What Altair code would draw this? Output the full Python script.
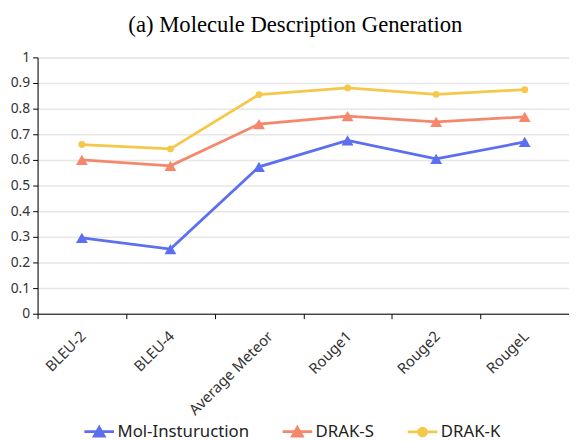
import altair as alt
import pandas as pd

categories = ["BLEU-2", "BLEU-4", "Average Meteor", "Rouge1", "Rouge2", "RougeL"]
series_names = ["Mol-Insturuction", "DRAK-S", "DRAK-K"]
mol_instruction = [0.296, 0.252, 0.573, 0.676, 0.604, 0.670]
drak_s = [0.600, 0.577, 0.740, 0.771, 0.748, 0.768]
drak_k = [0.660, 0.643, 0.855, 0.881, 0.856, 0.874]
colors = ["#5b6ff0", "#f5876c", "#f5c84a"]
widths = [2.8, 2.8, 2.0]

rows = []
for name, vals in zip(series_names, [mol_instruction, drak_s, drak_k]):
    for c, v in zip(categories, vals):
        rows.append({"category": c, "value": v, "series": name})
df = pd.DataFrame(rows)

FONT = "Noto Sans"

x_enc = alt.X(
    "category:N",
    sort=categories,
    scale=alt.Scale(paddingInner=0, paddingOuter=0),
    axis=alt.Axis(
        title=None,
        labelAngle=-45,
        labelAlign="right",
        labelBaseline="top",
        labelFontSize=15,
        labelFont=FONT,
        labelColor="#333333",
        labelPadding=10,
        labelOffset={"condition": {"test": "datum.value === 'Average Meteor'", "value": 6}, "value": -4},
        tickBand="extent",
        tickSize=5,
        tickColor="#000000",
        domainColor="#000000",
        grid=False,
    ),
)
y_enc = alt.Y(
    "value:Q",
    scale=alt.Scale(domain=[0, 1], nice=False),
    axis=alt.Axis(
        title=None,
        values=[0, 0.1, 0.2, 0.3, 0.4, 0.5, 0.6, 0.7, 0.8, 0.9, 1],
        labelExpr="format(datum.value, '~g')",
        labelFontSize=14,
        labelFont=FONT,
        labelColor="#333333",
        labelPadding=3,
        tickSize=5,
        tickColor="#000000",
        domainColor="#000000",
        gridColor="#e6e6e6",
        gridWidth=1.5,
    ),
)
# data-derived (sorted) domain so these hidden legends do not merge with the visible one
color_enc = alt.Color(
    "series:N", sort=series_names, scale=alt.Scale(range=colors), legend=None
)

base = alt.Chart(df)

lines = base.mark_line().encode(
    x=x_enc,
    y=y_enc,
    color=color_enc,
    strokeWidth=alt.StrokeWidth(
        "series:N", sort=series_names, scale=alt.Scale(range=widths), legend=None
    ),
)

triangles = (
    base.transform_filter(alt.datum.series != "DRAK-K")
    .mark_point(shape="triangle-up", filled=True, size=144, opacity=1)
    .encode(x=x_enc, y=y_enc, color=color_enc)
)
circles = (
    base.transform_filter(alt.datum.series == "DRAK-K")
    .mark_point(shape="circle", filled=True, size=48, opacity=1)
    .encode(x=x_enc, y=y_enc, color=color_enc)
)

tri_path = "M-3,0L3,0M0,-0.9L1,0.9L-1,0.9Z"
circ_path = "M-3,0L3,0M0.8,0A0.8,0.8,0,1,1,-0.8,0A0.8,0.8,0,1,1,0.8,0Z"

legend = alt.Legend(
    title=None,
    orient="none",
    direction="horizontal",
    legendX=54,
    legendY=371,
    symbolSize=100,
    symbolStrokeWidth=2.8,
    labelOffset=10,
    labelFontSize=17,
    labelFont=FONT,
    labelColor="#222222",
    columnPadding=27,
)

legend_layer = base.mark_point(filled=True, opacity=1, strokeWidth=2, clip=True).encode(
    x=alt.value(10),
    y=alt.value(290),
    fill=alt.Fill("series:N", scale=alt.Scale(domain=series_names, range=colors), legend=legend),
    stroke=alt.Stroke("series:N", scale=alt.Scale(domain=series_names, range=colors), legend=legend),
    shape=alt.Shape(
        "series:N",
        scale=alt.Scale(domain=series_names, range=[tri_path, tri_path, circ_path]),
        legend=legend,
    ),
)

chart = (
    alt.layer(lines, triangles, circles, legend_layer)
    .properties(
        width=539,
        height=260,
        autosize=alt.AutoSizeParams(type="none"),
        padding={"left": 30, "top": 47, "right": 0, "bottom": 126},
        title=alt.TitleParams(
            "(a) Molecule Description Generation",
            font="Liberation Serif",
            fontSize=23,
            fontWeight="normal",
            color="#000000",
            anchor="middle",
            frame="group",
            offset=14,
            dx=-8,
        ),
    )
    .configure_view(stroke=None)
    .configure(background="white")
)

chart.save("out.html", embed_options={"renderer": "svg", "actions": False})
